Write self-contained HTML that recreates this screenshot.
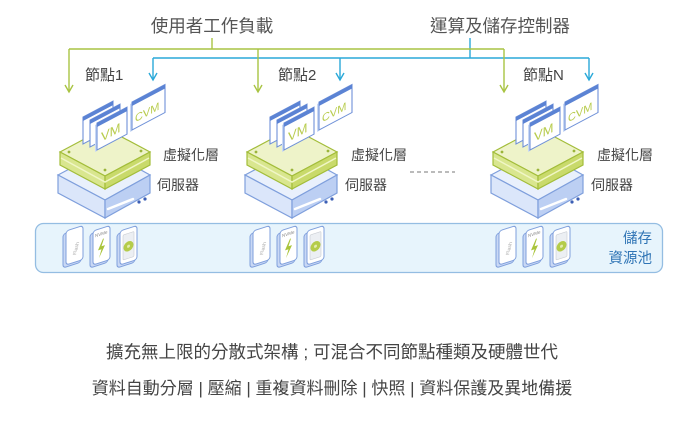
<!DOCTYPE html>
<html>
<head>
<meta charset="utf-8">
<style>
html,body{margin:0;padding:0;background:#fff;}
svg{display:block;}
text{font-family:"Liberation Sans","Noto Sans CJK TC",sans-serif;}
</style>
</head>
<body>
<svg width="692" height="429" viewBox="0 0 692 429" xmlns="http://www.w3.org/2000/svg">
<rect width="692" height="429" fill="#fff"/>

<!-- top labels -->
<text x="212" y="32" font-size="17.5" fill="#555" text-anchor="middle">使用者工作負載</text>
<text x="500" y="32" font-size="17.5" fill="#555" text-anchor="middle">運算及儲存控制器</text>

<!-- blue connectors -->
<g stroke="#2aa9d9" stroke-width="1.4" fill="none">
  <line x1="470" y1="38" x2="470" y2="58"/>
  <line x1="153" y1="58" x2="589" y2="58"/>
  <line x1="153" y1="58" x2="153" y2="80"/>
  <line x1="340" y1="58" x2="340" y2="80"/>
  <line x1="589" y1="58" x2="589" y2="80"/>
  <polyline points="149,73 153,80 157,73"/>
  <polyline points="336,73 340,80 344,73"/>
  <polyline points="585,73 589,80 593,73"/>
</g>
<!-- green connectors -->
<g stroke="#a9c443" stroke-width="1.4" fill="none">
  <line x1="212" y1="38" x2="212" y2="49"/>
  <line x1="69" y1="49" x2="504" y2="49"/>
  <line x1="69" y1="49" x2="69" y2="92"/>
  <line x1="258" y1="49" x2="258" y2="92"/>
  <line x1="504" y1="49" x2="504" y2="92"/>
  <polyline points="65,85 69,92 73,85"/>
  <polyline points="254,85 258,92 262,85"/>
  <polyline points="500,85 504,92 508,85"/>
</g>

<!-- node labels -->
<text x="85" y="80" font-size="15" fill="#444">節點1</text>
<text x="278" y="80" font-size="15" fill="#444">節點2</text>
<text x="523" y="80" font-size="15" fill="#444">節點N</text>

<!-- storage pool -->
<rect x="35.5" y="223.5" width="627" height="49" rx="8" fill="#e7f4fc" stroke="#94bde2" stroke-width="1.3"/>
<text x="652" y="243" font-size="14.5" fill="#2f74b5" text-anchor="end">儲存</text>
<text x="652" y="263" font-size="14.5" fill="#2f74b5" text-anchor="end">資源池</text>

<!-- dashed -->
<line x1="410" y1="172" x2="455" y2="172" stroke="#777" stroke-width="1" stroke-dasharray="4,3"/>

<!-- NODE 1 -->
<g id="n1">
  <!-- server -->
  <polygon points="58,175 105,150 150,175 105,200" fill="#e9f0fc" stroke="#7f9fdc" stroke-width="1.2"/>
  <polygon points="58,175 105,200 105,218 58,193" fill="#dbe6fa" stroke="#7f9fdc" stroke-width="1.2"/>
  <polygon points="105,200 150,175 150,193 105,218" fill="#bccff3" stroke="#7f9fdc" stroke-width="1.2"/>
  <line x1="108" y1="209" x2="133" y2="199" stroke="#fff" stroke-width="2.5" stroke-linecap="round"/>
  <circle cx="139" cy="202" r="1.6" fill="#3c5fb5"/>
  <circle cx="145" cy="199" r="1.6" fill="#3c5fb5"/>
  <!-- virtualization -->
  <polygon points="60,152 105,128 150,152 105,176" fill="#eef3c9" stroke="#a3bd3a" stroke-width="1.2"/>
  <polygon points="60,152 105,176 105,189 60,165" fill="#d9e68f" stroke="#a3bd3a" stroke-width="1.2"/>
  <polygon points="105,176 150,152 150,165 105,189" fill="#c9da6b" stroke="#a3bd3a" stroke-width="1.2"/>
  <polyline points="61,158 105,182 149,158" fill="none" stroke="#f0f6c6" stroke-width="1.5"/>
  <circle cx="69" cy="152" r="1.4" fill="#9bb53a"/>
  <circle cx="141" cy="151" r="1.4" fill="#9bb53a"/>
  <circle cx="105" cy="170" r="1.4" fill="#9bb53a"/>
  <!-- VM stack -->
  <g transform="matrix(1,-0.53,0,1,83,117)">
    <rect x="0" y="0" width="30" height="27" fill="#fff" stroke="#6f91d8" stroke-width="1.1"/>
    <rect x="0" y="0" width="30" height="4" fill="#5b83d4"/>
  </g>
  <g transform="matrix(1,-0.53,0,1,90,120)">
    <rect x="0" y="0" width="30" height="27" fill="#fff" stroke="#6f91d8" stroke-width="1.1"/>
    <rect x="0" y="0" width="30" height="4" fill="#5b83d4"/>
  </g>
  <g transform="matrix(1,-0.53,0,1,97,123)">
    <rect x="-2" y="1" width="2" height="27" fill="#c9d8f5"/>
    <rect x="0" y="0" width="30" height="27" fill="#fff" stroke="#6f91d8" stroke-width="1.1"/>
    <rect x="0" y="0" width="30" height="4" fill="#5b83d4"/>
    <text x="4" y="21" font-size="13" fill="#b8cc4e">VM</text>
  </g>
  <!-- CVM -->
  <g transform="matrix(1,-0.53,0,1,132,102)">
    <rect x="-2" y="1" width="2" height="28" fill="#c9d8f5"/>
    <rect x="0" y="0" width="33" height="28" fill="#fff" stroke="#6f91d8" stroke-width="1.1"/>
    <rect x="0" y="0" width="33" height="4" fill="#5b83d4"/>
    <text x="3" y="22" font-size="11" fill="#b8cc4e">CVM</text>
  </g>
  <!-- storage cards -->
  <g transform="translate(63,232) skewY(-18)">
    <rect x="0" y="2" width="18" height="34" rx="3" fill="#c9d8f5" stroke="#7f9fdc" stroke-width="1"/>
    <rect x="3" y="0" width="17" height="34" rx="3" fill="#fff" stroke="#7f9fdc" stroke-width="1"/>
    <text x="0" y="0" font-size="5" fill="#aaa" transform="translate(13,27) rotate(-75)">Flash</text>
  </g>
  <g transform="translate(90,232) skewY(-18)">
    <rect x="0" y="2" width="18" height="34" rx="3" fill="#c9d8f5" stroke="#7f9fdc" stroke-width="1"/>
    <rect x="3" y="0" width="17" height="34" rx="3" fill="#fff" stroke="#7f9fdc" stroke-width="1"/>
    <text x="5" y="7" font-size="4.5" fill="#888">NVMe</text>
    <polygon points="13,11 8,21 11.5,21 9,29 15,18 11.5,18 14,11" fill="#a9c43a"/>
  </g>
  <g transform="translate(117,232) skewY(-18)">
    <rect x="0" y="2" width="18" height="34" rx="3" fill="#c9d8f5" stroke="#7f9fdc" stroke-width="1"/>
    <rect x="3" y="0" width="17" height="34" rx="3" fill="#fff" stroke="#7f9fdc" stroke-width="1"/>
    <rect x="6" y="5" width="11" height="25" rx="1" fill="#eceff3" stroke="#c8ccd2" stroke-width="0.6"/>
    <circle cx="11.5" cy="18" r="5" fill="#b5cc4a"/>
    <circle cx="11.5" cy="18" r="1.5" fill="#e3ecb0"/>
  </g>
</g>

<!-- NODE 2 -->
<g transform="translate(187,0)">
  <polygon points="58,175 105,150 150,175 105,200" fill="#e9f0fc" stroke="#7f9fdc" stroke-width="1.2"/>
  <polygon points="58,175 105,200 105,218 58,193" fill="#dbe6fa" stroke="#7f9fdc" stroke-width="1.2"/>
  <polygon points="105,200 150,175 150,193 105,218" fill="#bccff3" stroke="#7f9fdc" stroke-width="1.2"/>
  <line x1="108" y1="209" x2="133" y2="199" stroke="#fff" stroke-width="2.5" stroke-linecap="round"/>
  <circle cx="139" cy="202" r="1.6" fill="#3c5fb5"/>
  <circle cx="145" cy="199" r="1.6" fill="#3c5fb5"/>
  <polygon points="60,152 105,128 150,152 105,176" fill="#eef3c9" stroke="#a3bd3a" stroke-width="1.2"/>
  <polygon points="60,152 105,176 105,189 60,165" fill="#d9e68f" stroke="#a3bd3a" stroke-width="1.2"/>
  <polygon points="105,176 150,152 150,165 105,189" fill="#c9da6b" stroke="#a3bd3a" stroke-width="1.2"/>
  <polyline points="61,158 105,182 149,158" fill="none" stroke="#f0f6c6" stroke-width="1.5"/>
  <circle cx="69" cy="152" r="1.4" fill="#9bb53a"/>
  <circle cx="141" cy="151" r="1.4" fill="#9bb53a"/>
  <circle cx="105" cy="170" r="1.4" fill="#9bb53a"/>
  <g transform="matrix(1,-0.53,0,1,83,117)">
    <rect x="0" y="0" width="30" height="27" fill="#fff" stroke="#6f91d8" stroke-width="1.1"/>
    <rect x="0" y="0" width="30" height="4" fill="#5b83d4"/>
  </g>
  <g transform="matrix(1,-0.53,0,1,90,120)">
    <rect x="0" y="0" width="30" height="27" fill="#fff" stroke="#6f91d8" stroke-width="1.1"/>
    <rect x="0" y="0" width="30" height="4" fill="#5b83d4"/>
  </g>
  <g transform="matrix(1,-0.53,0,1,97,123)">
    <rect x="-2" y="1" width="2" height="27" fill="#c9d8f5"/>
    <rect x="0" y="0" width="30" height="27" fill="#fff" stroke="#6f91d8" stroke-width="1.1"/>
    <rect x="0" y="0" width="30" height="4" fill="#5b83d4"/>
    <text x="4" y="21" font-size="13" fill="#b8cc4e">VM</text>
  </g>
  <g transform="matrix(1,-0.53,0,1,132,102)">
    <rect x="-2" y="1" width="2" height="28" fill="#c9d8f5"/>
    <rect x="0" y="0" width="33" height="28" fill="#fff" stroke="#6f91d8" stroke-width="1.1"/>
    <rect x="0" y="0" width="33" height="4" fill="#5b83d4"/>
    <text x="3" y="22" font-size="11" fill="#b8cc4e">CVM</text>
  </g>
  <g transform="translate(63,232) skewY(-18)">
    <rect x="0" y="2" width="18" height="34" rx="3" fill="#c9d8f5" stroke="#7f9fdc" stroke-width="1"/>
    <rect x="3" y="0" width="17" height="34" rx="3" fill="#fff" stroke="#7f9fdc" stroke-width="1"/>
    <text x="0" y="0" font-size="5" fill="#aaa" transform="translate(13,27) rotate(-75)">Flash</text>
  </g>
  <g transform="translate(90,232) skewY(-18)">
    <rect x="0" y="2" width="18" height="34" rx="3" fill="#c9d8f5" stroke="#7f9fdc" stroke-width="1"/>
    <rect x="3" y="0" width="17" height="34" rx="3" fill="#fff" stroke="#7f9fdc" stroke-width="1"/>
    <text x="5" y="7" font-size="4.5" fill="#888">NVMe</text>
    <polygon points="13,11 8,21 11.5,21 9,29 15,18 11.5,18 14,11" fill="#a9c43a"/>
  </g>
  <g transform="translate(117,232) skewY(-18)">
    <rect x="0" y="2" width="18" height="34" rx="3" fill="#c9d8f5" stroke="#7f9fdc" stroke-width="1"/>
    <rect x="3" y="0" width="17" height="34" rx="3" fill="#fff" stroke="#7f9fdc" stroke-width="1"/>
    <rect x="6" y="5" width="11" height="25" rx="1" fill="#eceff3" stroke="#c8ccd2" stroke-width="0.6"/>
    <circle cx="11.5" cy="18" r="5" fill="#b5cc4a"/>
    <circle cx="11.5" cy="18" r="1.5" fill="#e3ecb0"/>
  </g>
</g>

<!-- NODE N -->
<g transform="translate(433,0)">
  <polygon points="58,175 105,150 150,175 105,200" fill="#e9f0fc" stroke="#7f9fdc" stroke-width="1.2"/>
  <polygon points="58,175 105,200 105,218 58,193" fill="#dbe6fa" stroke="#7f9fdc" stroke-width="1.2"/>
  <polygon points="105,200 150,175 150,193 105,218" fill="#bccff3" stroke="#7f9fdc" stroke-width="1.2"/>
  <line x1="108" y1="209" x2="133" y2="199" stroke="#fff" stroke-width="2.5" stroke-linecap="round"/>
  <circle cx="139" cy="202" r="1.6" fill="#3c5fb5"/>
  <circle cx="145" cy="199" r="1.6" fill="#3c5fb5"/>
  <polygon points="60,152 105,128 150,152 105,176" fill="#eef3c9" stroke="#a3bd3a" stroke-width="1.2"/>
  <polygon points="60,152 105,176 105,189 60,165" fill="#d9e68f" stroke="#a3bd3a" stroke-width="1.2"/>
  <polygon points="105,176 150,152 150,165 105,189" fill="#c9da6b" stroke="#a3bd3a" stroke-width="1.2"/>
  <polyline points="61,158 105,182 149,158" fill="none" stroke="#f0f6c6" stroke-width="1.5"/>
  <circle cx="69" cy="152" r="1.4" fill="#9bb53a"/>
  <circle cx="141" cy="151" r="1.4" fill="#9bb53a"/>
  <circle cx="105" cy="170" r="1.4" fill="#9bb53a"/>
  <g transform="matrix(1,-0.53,0,1,83,117)">
    <rect x="0" y="0" width="30" height="27" fill="#fff" stroke="#6f91d8" stroke-width="1.1"/>
    <rect x="0" y="0" width="30" height="4" fill="#5b83d4"/>
  </g>
  <g transform="matrix(1,-0.53,0,1,90,120)">
    <rect x="0" y="0" width="30" height="27" fill="#fff" stroke="#6f91d8" stroke-width="1.1"/>
    <rect x="0" y="0" width="30" height="4" fill="#5b83d4"/>
  </g>
  <g transform="matrix(1,-0.53,0,1,97,123)">
    <rect x="-2" y="1" width="2" height="27" fill="#c9d8f5"/>
    <rect x="0" y="0" width="30" height="27" fill="#fff" stroke="#6f91d8" stroke-width="1.1"/>
    <rect x="0" y="0" width="30" height="4" fill="#5b83d4"/>
    <text x="4" y="21" font-size="13" fill="#b8cc4e">VM</text>
  </g>
  <g transform="matrix(1,-0.53,0,1,132,102)">
    <rect x="-2" y="1" width="2" height="28" fill="#c9d8f5"/>
    <rect x="0" y="0" width="33" height="28" fill="#fff" stroke="#6f91d8" stroke-width="1.1"/>
    <rect x="0" y="0" width="33" height="4" fill="#5b83d4"/>
    <text x="3" y="22" font-size="11" fill="#b8cc4e">CVM</text>
  </g>
  <g transform="translate(63,232) skewY(-18)">
    <rect x="0" y="2" width="18" height="34" rx="3" fill="#c9d8f5" stroke="#7f9fdc" stroke-width="1"/>
    <rect x="3" y="0" width="17" height="34" rx="3" fill="#fff" stroke="#7f9fdc" stroke-width="1"/>
    <text x="0" y="0" font-size="5" fill="#aaa" transform="translate(13,27) rotate(-75)">Flash</text>
  </g>
  <g transform="translate(90,232) skewY(-18)">
    <rect x="0" y="2" width="18" height="34" rx="3" fill="#c9d8f5" stroke="#7f9fdc" stroke-width="1"/>
    <rect x="3" y="0" width="17" height="34" rx="3" fill="#fff" stroke="#7f9fdc" stroke-width="1"/>
    <text x="5" y="7" font-size="4.5" fill="#888">NVMe</text>
    <polygon points="13,11 8,21 11.5,21 9,29 15,18 11.5,18 14,11" fill="#a9c43a"/>
  </g>
  <g transform="translate(117,232) skewY(-18)">
    <rect x="0" y="2" width="18" height="34" rx="3" fill="#c9d8f5" stroke="#7f9fdc" stroke-width="1"/>
    <rect x="3" y="0" width="17" height="34" rx="3" fill="#fff" stroke="#7f9fdc" stroke-width="1"/>
    <rect x="6" y="5" width="11" height="25" rx="1" fill="#eceff3" stroke="#c8ccd2" stroke-width="0.6"/>
    <circle cx="11.5" cy="18" r="5" fill="#b5cc4a"/>
    <circle cx="11.5" cy="18" r="1.5" fill="#e3ecb0"/>
  </g>
</g>

<!-- layer labels -->
<text x="163" y="160" font-size="14" fill="#444">虛擬化層</text>
<text x="157" y="190" font-size="14" fill="#444">伺服器</text>
<text x="351" y="160" font-size="14" fill="#444">虛擬化層</text>
<text x="345" y="190" font-size="14" fill="#444">伺服器</text>
<text x="597" y="160" font-size="14" fill="#444">虛擬化層</text>
<text x="591" y="190" font-size="14" fill="#444">伺服器</text>

<!-- bottom text -->
<text x="332" y="358" font-size="17.5" fill="#444" text-anchor="middle">擴充無上限的分散式架構 ; 可混合不同節點種類及硬體世代</text>
<text x="332" y="394" font-size="17" fill="#444" text-anchor="middle">資料自動分層 | 壓縮 | 重複資料刪除 | 快照 | 資料保護及異地備援</text>
</svg>
</body>
</html>
